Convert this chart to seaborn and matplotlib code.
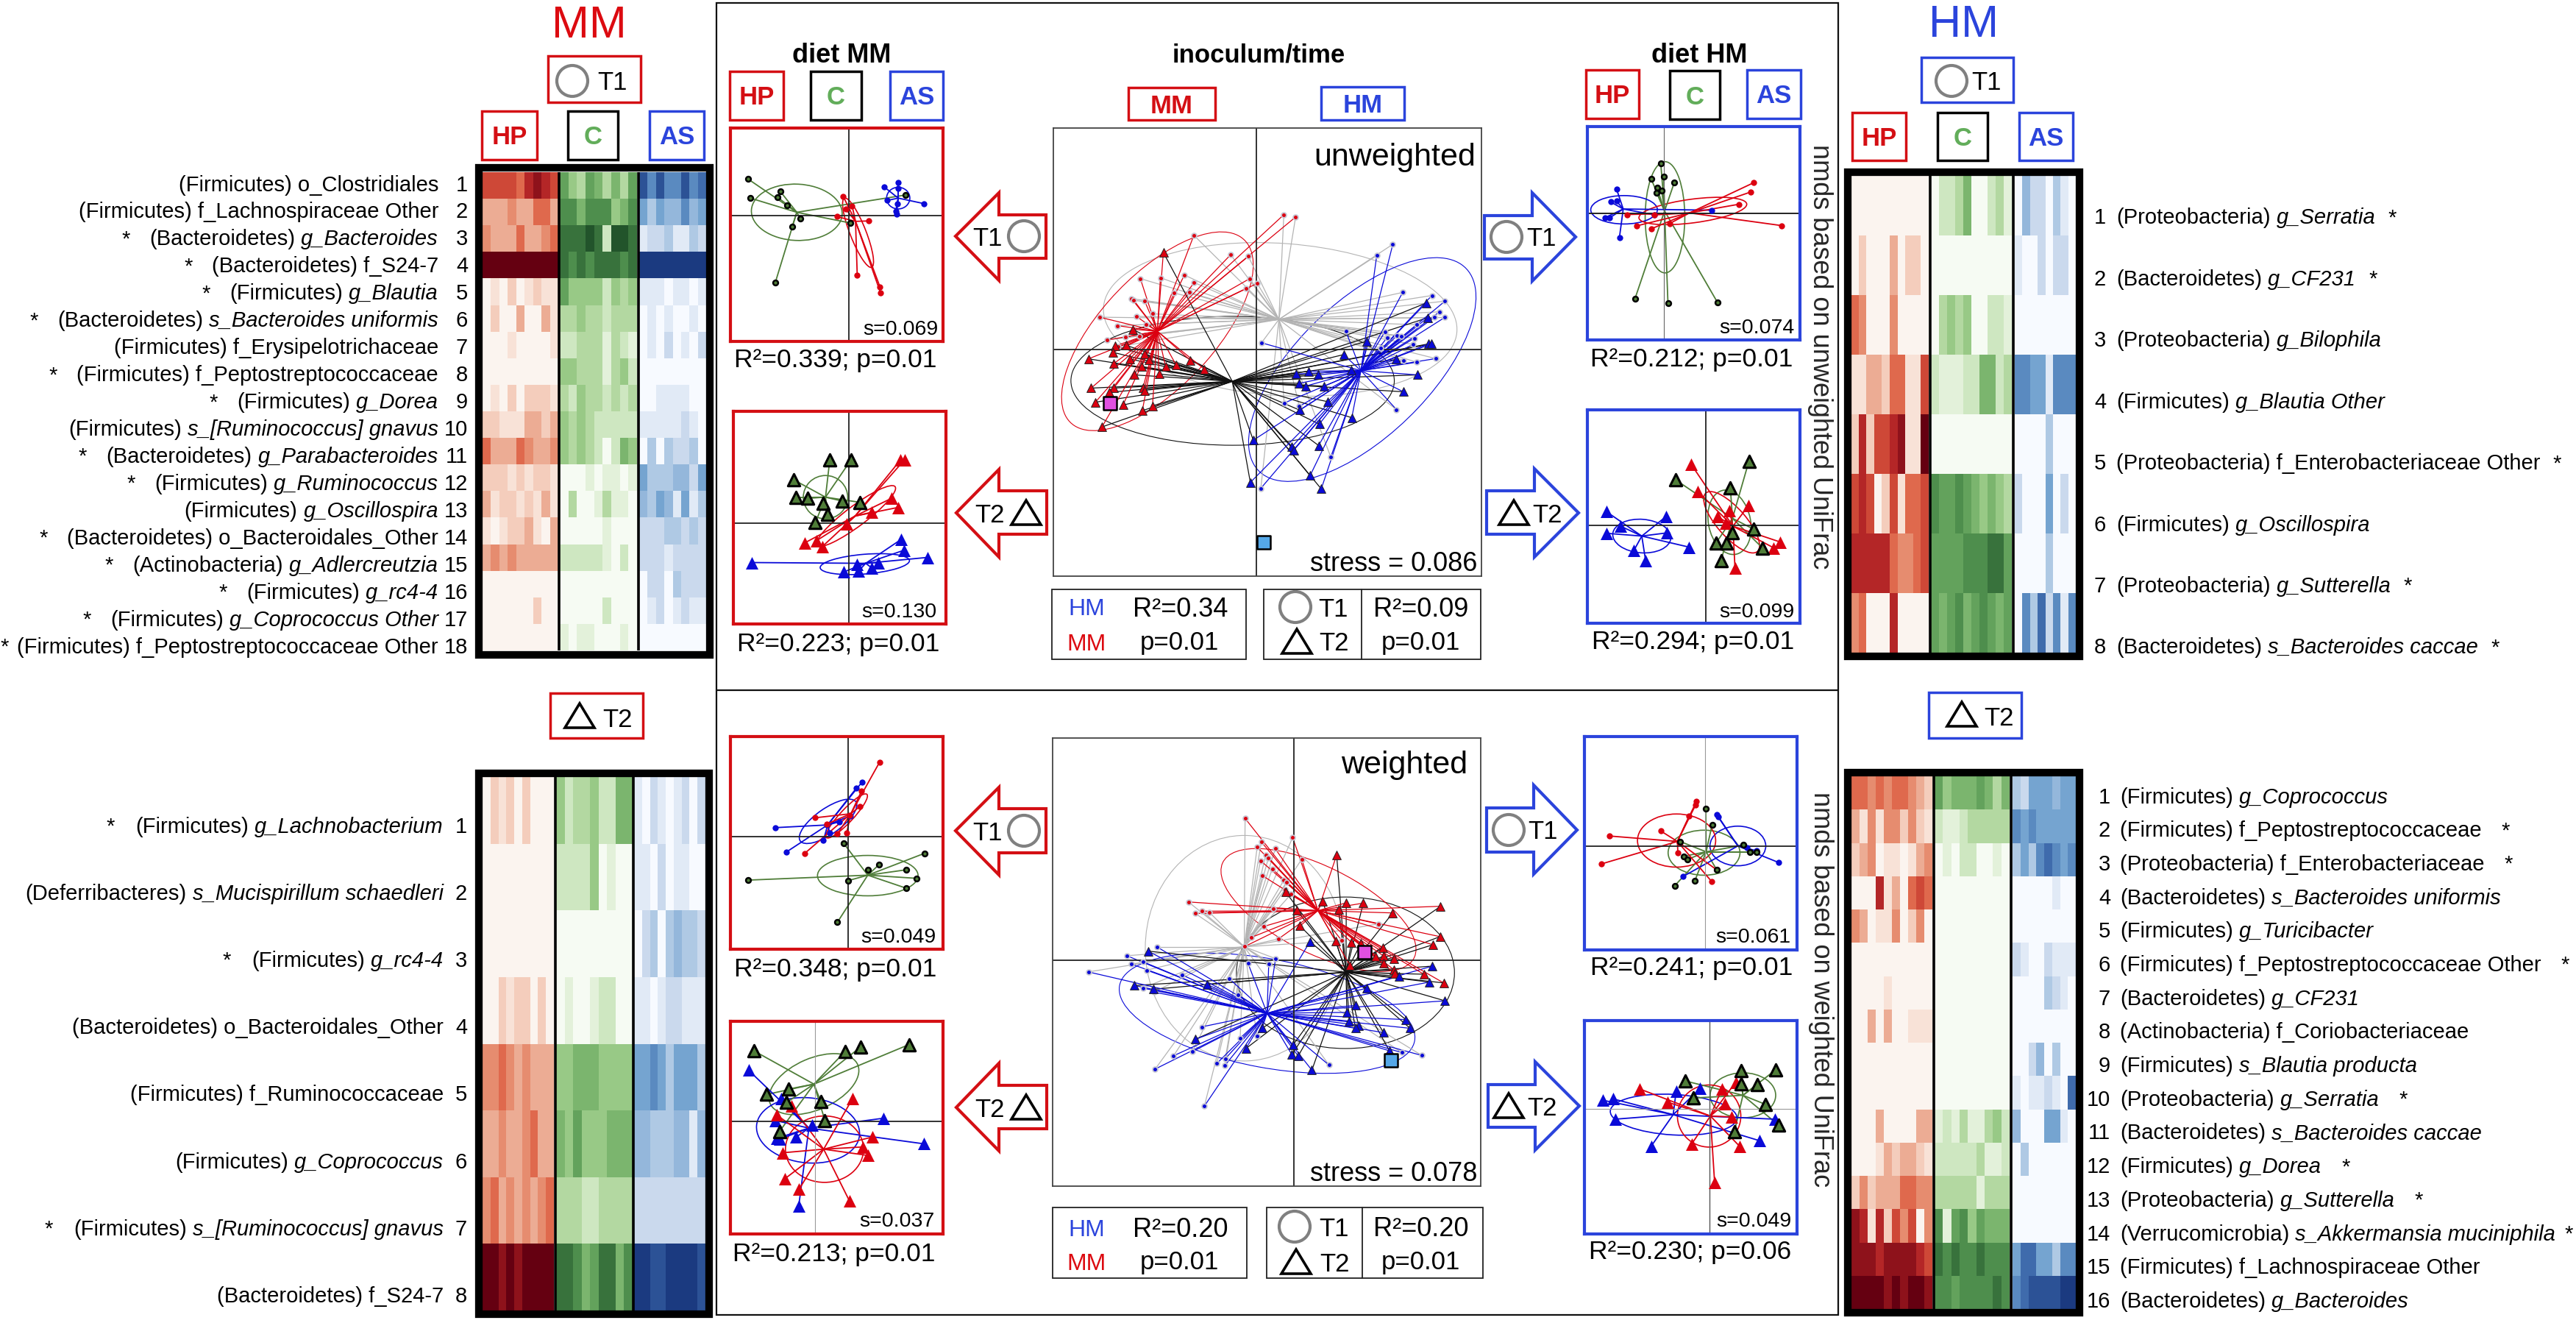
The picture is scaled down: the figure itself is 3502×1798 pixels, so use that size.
import numpy as np
import matplotlib
matplotlib.use('Agg')
import matplotlib.pyplot as plt
from matplotlib.colors import LinearSegmentedColormap
from matplotlib.patches import Ellipse, Polygon, Rectangle
import seaborn as sns

# ---- heatmap values (0 = lowest, 9 = highest abundance) ----
mm_t1_names = ['(Firmicutes) o_Clostridiales', '(Firmicutes) f_Lachnospiraceae Other', '(Bacteroidetes)|g_Bacteroides',
               '(Bacteroidetes) f_S24-7', '(Firmicutes)|g_Blautia', '(Bacteroidetes)|s_Bacteroides uniformis',
               '(Firmicutes) f_Erysipelotrichaceae', '(Firmicutes) f_Peptostreptococcaceae', '(Firmicutes)|g_Dorea',
               '(Firmicutes)|s_[Ruminococcus] gnavus', '(Bacteroidetes)|g_Parabacteroides', '(Firmicutes)|g_Ruminococcus',
               '(Firmicutes)|g_Oscillospira', '(Bacteroidetes) o_Bacteroidales_Other', '(Actinobacteria)|g_Adlercreutzia',
               '(Firmicutes)|g_rc4-4', '(Firmicutes)|g_Coprococcus Other', '(Firmicutes) f_Peptostreptococcaceae Other']
mm_t1_star = [0, 0, 1, 1, 1, 1, 0, 1, 1, 0, 1, 1, 0, 1, 1, 1, 1, 1]
mm_t1_hp = [[6, 6, 6, 6, 5, 7, 8, 7, 6], [3, 3, 3, 4, 3, 3, 5, 5, 3], [4, 3, 3, 3, 5, 3, 3, 4, 5],
            [9, 9, 9, 9, 9, 9, 9, 9, 9], [0, 1, 0, 2, 0, 1, 2, 1, 1], [0, 2, 0, 0, 3, 0, 0, 3, 1],
            [0, 0, 0, 1, 0, 0, 0, 0, 1], [0, 0, 0, 0, 0, 0, 0, 0, 0], [0, 1, 0, 2, 0, 2, 2, 2, 1],
            [2, 2, 1, 1, 1, 3, 3, 2, 3], [5, 3, 3, 3, 5, 4, 3, 3, 4], [2, 2, 2, 1, 2, 1, 2, 2, 1],
            [3, 1, 2, 2, 1, 2, 1, 3, 1], [1, 0, 1, 2, 2, 3, 1, 0, 3], [3, 4, 3, 4, 3, 3, 3, 3, 3],
            [0, 0, 0, 0, 0, 0, 0, 0, 0], [0, 0, 0, 0, 0, 0, 2, 0, 0], [0, 0, 0, 0, 0, 0, 0, 0, 0]]
mm_t1_c = [[6, 4, 3, 6, 5, 3, 5, 3, 6], [7, 7, 5, 7, 7, 7, 4, 5, 7], [8, 8, 8, 9, 8, 2, 9, 9, 8],
           [8, 7, 8, 7, 8, 8, 8, 7, 8], [6, 4, 4, 4, 4, 2, 4, 3, 4], [3, 3, 4, 3, 3, 2, 3, 3, 3],
           [2, 2, 3, 3, 3, 1, 3, 2, 1], [4, 4, 3, 3, 3, 1, 3, 4, 2], [3, 2, 4, 3, 3, 2, 3, 2, 3],
           [4, 3, 4, 3, 2, 2, 2, 2, 2], [4, 3, 4, 3, 2, 0, 2, 5, 4], [0, 0, 0, 1, 0, 1, 1, 0, 1],
           [0, 3, 0, 0, 1, 3, 1, 1, 0], [0, 0, 0, 0, 0, 1, 0, 0, 0], [2, 2, 2, 2, 2, 1, 0, 2, 0],
           [0, 0, 0, 0, 0, 0, 0, 0, 0], [0, 0, 0, 0, 0, 2, 0, 0, 0], [1, 0, 1, 1, 0, 0, 0, 1, 0]]
mm_t1_as = [[8, 6, 8, 6, 6, 8, 6, 7], [5, 3, 5, 4, 4, 6, 4, 5], [1, 2, 2, 3, 1, 1, 3, 2], [9, 9, 9, 9, 9, 9, 9, 9],
            [1, 1, 1, 0, 1, 1, 0, 1], [0, 1, 0, 1, 0, 0, 1, 0], [0, 1, 0, 2, 0, 1, 0, 2], [0, 0, 0, 0, 0, 0, 0, 0],
            [0, 0, 1, 1, 1, 1, 0, 0], [1, 1, 1, 1, 1, 2, 1, 0], [0, 3, 0, 3, 2, 2, 3, 0], [5, 3, 3, 3, 4, 4, 2, 5],
            [4, 3, 5, 4, 1, 5, 1, 3], [2, 2, 2, 3, 3, 2, 3, 2], [2, 2, 2, 1, 2, 2, 2, 2], [0, 2, 2, 0, 3, 2, 2, 2],
            [0, 1, 2, 0, 1, 2, 1, 1], [0, 0, 0, 0, 0, 0, 0, 0]]

mm_t2_names = ['(Firmicutes)|g_Lachnobacterium', '(Deferribacteres)|s_Mucispirillum schaedleri', '(Firmicutes)|g_rc4-4',
               '(Bacteroidetes) o_Bacteroidales_Other', '(Firmicutes) f_Ruminococcaceae', '(Firmicutes)|g_Coprococcus',
               '(Firmicutes)|s_[Ruminococcus] gnavus', '(Bacteroidetes) f_S24-7']
mm_t2_star = [1, 0, 1, 0, 0, 0, 1, 0]
mm_t2_hp = [[0, 2, 1, 2, 0, 2, 0, 0, 0], [0, 0, 0, 0, 0, 0, 0, 0, 0], [0, 0, 0, 0, 0, 0, 0, 0, 0],
            [0, 0, 2, 1, 2, 2, 0, 2, 0], [4, 4, 5, 4, 3, 4, 3, 3, 3], [3, 3, 4, 3, 3, 4, 5, 3, 3],
            [4, 5, 3, 4, 3, 4, 3, 4, 5], [9, 9, 8, 9, 8, 9, 9, 9, 9]]
mm_t2_c = [[4, 2, 3, 3, 4, 2, 2, 5, 5], [2, 2, 2, 2, 4, 0, 1, 0, 0], [0, 0, 0, 0, 0, 0, 0, 0, 0],
           [0, 1, 0, 0, 1, 2, 2, 0, 0], [4, 4, 5, 5, 5, 4, 4, 4, 4], [5, 4, 6, 4, 4, 4, 5, 5, 5],
           [3, 3, 3, 2, 2, 3, 3, 3, 3], [8, 8, 7, 5, 6, 8, 8, 5, 7]]
mm_t2_as = [[1, 0, 2, 1, 0, 1, 2, 0, 2], [1, 1, 0, 2, 0, 1, 1, 0, 0], [0, 2, 3, 0, 3, 4, 3, 3, 2],
            [1, 1, 0, 1, 2, 2, 1, 1, 1], [5, 5, 6, 5, 3, 5, 5, 5, 3], [4, 4, 3, 3, 3, 4, 4, 1, 4],
            [2, 2, 2, 2, 2, 2, 2, 2, 2], [9, 9, 8, 8, 9, 9, 9, 9, 8]]

hm_t1_names = ['(Proteobacteria)|g_Serratia', '(Bacteroidetes)|g_CF231', '(Proteobacteria)|g_Bilophila',
               '(Firmicutes)|g_Blautia Other', '(Proteobacteria) f_Enterobacteriaceae Other', '(Firmicutes)|g_Oscillospira',
               '(Proteobacteria)|g_Sutterella', '(Bacteroidetes)|s_Bacteroides caccae']
hm_t1_star = [1, 1, 0, 0, 1, 0, 1, 1]
hm_t1_hp = [[0, 0, 0, 0, 0, 0, 0, 0, 0, 0], [0, 2, 0, 0, 0, 3, 0, 2, 2, 0], [5, 4, 0, 0, 0, 4, 0, 0, 0, 0],
            [1, 1, 3, 3, 2, 5, 5, 1, 1, 6], [2, 7, 2, 6, 6, 7, 8, 1, 1, 9], [6, 7, 6, 0, 2, 6, 1, 5, 5, 6],
            [7, 7, 7, 7, 7, 5, 4, 4, 5, 6], [4, 5, 0, 0, 0, 7, 0, 0, 0, 0]]
hm_t1_c = [[0, 2, 2, 3, 5, 0, 0, 2, 3, 1], [0, 0, 0, 0, 0, 0, 0, 0, 0, 0], [0, 3, 4, 3, 4, 0, 0, 2, 2, 1],
           [2, 1, 1, 1, 2, 2, 5, 5, 2, 3], [0, 0, 0, 0, 0, 0, 0, 0, 0, 0], [7, 6, 6, 7, 6, 5, 4, 5, 4, 3],
           [6, 6, 6, 6, 7, 7, 7, 8, 8, 6], [6, 5, 6, 7, 5, 6, 7, 6, 5, 6]]
hm_t1_as = [[0, 4, 2, 2, 0, 3, 1, 0], [1, 0, 0, 2, 0, 2, 2, 0], [0, 0, 0, 0, 0, 0, 0, 0], [6, 6, 5, 5, 1, 6, 6, 6],
            [0, 0, 0, 0, 3, 0, 0, 0], [2, 0, 0, 0, 5, 0, 2, 0], [0, 0, 0, 0, 3, 0, 0, 0], [0, 6, 3, 7, 2, 6, 1, 6]]

hm_t2_names = ['(Firmicutes)|g_Coprococcus', '(Firmicutes) f_Peptostreptococcaceae', '(Proteobacteria) f_Enterobacteriaceae',
               '(Bacteroidetes)|s_Bacteroides uniformis', '(Firmicutes)|g_Turicibacter',
               '(Firmicutes) f_Peptostreptococcaceae Other', '(Bacteroidetes)|g_CF231', '(Actinobacteria) f_Coriobacteriaceae',
               '(Firmicutes)|s_Blautia producta', '(Proteobacteria)|g_Serratia', '(Bacteroidetes)|s_Bacteroides caccae',
               '(Firmicutes)|g_Dorea', '(Proteobacteria)|g_Sutterella', '(Verrucomicrobia)|s_Akkermansia muciniphila',
               '(Firmicutes) f_Lachnospiraceae Other', '(Bacteroidetes)|g_Bacteroides']
hm_t2_star = [0, 1, 1, 0, 0, 1, 0, 0, 0, 1, 0, 1, 1, 1, 0, 0]
hm_t2_hp = [[5, 5, 4, 5, 4, 5, 5, 4, 3, 2], [3, 1, 4, 1, 4, 4, 2, 4, 2, 1], [2, 3, 4, 0, 1, 1, 0, 1, 3, 4],
            [0, 0, 0, 7, 1, 3, 0, 5, 6, 5], [4, 3, 0, 1, 1, 4, 0, 2, 4, 0], [0, 0, 0, 0, 0, 0, 0, 0, 0, 0],
            [0, 0, 0, 0, 1, 0, 0, 0, 0, 0], [0, 0, 3, 0, 3, 0, 0, 1, 1, 1], [0, 0, 0, 0, 0, 0, 0, 0, 0, 0],
            [0, 0, 0, 0, 0, 0, 0, 0, 0, 0], [0, 0, 0, 3, 0, 0, 0, 0, 3, 3], [0, 0, 0, 1, 3, 2, 3, 3, 2, 1],
            [2, 4, 2, 3, 3, 3, 5, 5, 4, 4], [8, 7, 1, 7, 2, 6, 4, 6, 0, 4], [8, 8, 8, 7, 8, 8, 8, 8, 7, 6],
            [9, 9, 9, 9, 8, 9, 8, 9, 9, 8]]
hm_t2_c = [[6, 4, 5, 5, 5, 6, 5, 3, 5], [2, 1, 1, 2, 3, 3, 3, 3, 3], [0, 1, 0, 2, 2, 0, 0, 1, 0],
           [0, 0, 0, 0, 0, 0, 0, 0, 0], [0, 0, 0, 0, 0, 0, 0, 0, 0], [0, 0, 0, 0, 0, 0, 0, 0, 0],
           [0, 0, 0, 0, 0, 0, 0, 0, 0], [0, 0, 0, 0, 0, 0, 0, 0, 0], [0, 0, 0, 0, 0, 0, 0, 0, 0],
           [0, 0, 0, 0, 0, 0, 0, 0, 0], [1, 2, 1, 3, 1, 1, 3, 4, 2], [2, 2, 2, 2, 2, 3, 1, 1, 2],
           [3, 3, 3, 3, 3, 1, 3, 3, 3], [7, 1, 6, 7, 4, 6, 5, 5, 5], [8, 7, 8, 7, 7, 8, 7, 7, 7],
           [7, 7, 6, 7, 7, 7, 7, 8, 7]]
hm_t2_as = [[3, 2, 5, 5, 5, 4, 5, 5], [6, 5, 6, 5, 5, 5, 5, 5], [3, 5, 3, 6, 7, 6, 5, 6], [0, 0, 0, 0, 0, 1, 0, 0],
            [0, 0, 0, 0, 0, 0, 0, 0], [2, 1, 0, 0, 2, 1, 1, 1], [0, 0, 0, 0, 3, 2, 1, 0], [0, 0, 0, 0, 0, 0, 0, 0],
            [0, 0, 2, 4, 0, 3, 0, 0], [1, 0, 1, 1, 2, 1, 0, 7], [4, 0, 0, 0, 5, 5, 1, 0], [0, 3, 0, 0, 0, 0, 0, 0],
            [0, 0, 0, 0, 0, 0, 0, 0], [0, 0, 0, 0, 0, 0, 0, 0], [5, 7, 7, 5, 5, 3, 6, 6], [6, 7, 8, 8, 8, 8, 9, 9]]

# ---- small nmds panels, values are axis scores x 1000 ----
# unweighted, diet MM, T1
a_c_x = [-240, -234, -163, -169, -147, -116, -135, -175, 2, 134]
a_c_y = [93, 44, 61, 46, 26, -7, -29, -171, -19, 52]
a_hp_x = [-14, 7, -8, -29, 47, 19, 73, 74]
a_hp_y = [48, 24, 16, -3, -14, -151, -182, -196]
a_as_x = [82, 115, 116, 90, 114, 177, 110, 112]
a_as_y = [73, 83, 68, 38, 30, 30, 11, 3]
a_ell = {'c': (-124, 8, 215, 143, -3), 'hp': (21, -44, 187, 38, -70), 'as': (116, 44, 55, 55, 0)}
a_hub = {'c': (-124, 8), 'hp': (15, -15), 'as': (116, 44)}
# unweighted, diet MM, T2
b_c_x = [-46, 4, -131, -126, -99, -61, -16, 25, -51, -80]
b_c_y = [160, 160, 110, 65, 63, 51, 56, 53, 23, 1]
b_hp_x = [121, 131, 100, 116, 54, -6, -105, -78, -64]
b_hp_y = [160, 161, 63, 40, 28, -2, -50, -45, -60]
b_as_x = [-231, 122, 129, 185, 69, 54, 19, -13, 22]
b_as_y = [-100, -42, -69, -87, -100, -114, -104, -124, -122]
b_ell = {'c': (-56, 66, 105, 110, 0), 'hp': (16, 18, 238, 50, 39), 'as': (37, -104, 212, 50, 5)}
b_hub = {'c': (-56, 66), 'hp': (14, 18), 'as': (39, -102)}
# unweighted, diet HM, T1
c_c_x = [-7, -30, 0, 25, -16, -5, -17, -68, 10, 127]
c_c_y = [126, 88, 94, 78, 65, 58, 53, -216, -228, -225]
c_hp_x = [214, 206, 178, 279, -86, -23, -65, -29, 14]
c_hp_y = [78, 54, 23, -31, -3, -4, -32, -39, -26]
c_as_x = [-112, -126, -112, -139, -129, -105, -22, 114]
c_as_y = [62, 29, 31, -11, -12, -61, -4, 8]
c_ell = {'c': (3, -10, 94, 282, 0), 'hp': (69, 6, 258, 60, 8), 'as': (-94, 9, 158, 72, 0)}
c_hub = {'c': (2, 6), 'hp': (61, 1), 'as': (-96, 11)}
# unweighted, diet HM, T2
d_c_x = [-70, 103, 59, 63, 115, 25, 49, 135, 37]
d_c_y = [114, 162, 94, -20, -11, -46, -46, -58, -90]
d_hp_x = [-34, -18, 28, 57, 102, 47, 177, 162, 70]
d_hp_y = [154, 85, 22, 37, 49, 4, -43, -58, -110]
d_as_x = [-235, -234, -201, -93, -92, -39, -170, -142]
d_as_y = [34, -21, -3, 22, -20, -56, -65, -90]
d_ell = {'c': (57, 7, 100, 165, 10), 'hp': (62, 7, 192, 70, -51), 'as': (-151, -28, 138, 85, -5)}
d_hub = {'c': (64, 17), 'hp': (65, -3), 'as': (-151, -28)}
# weighted, diet MM, T1
e_c_x = [-10, 182, 47, 73, 138, 162, 138, 1, -236, -25]
e_c_y = [-15, -37, -74, -63, -74, -93, -115, -98, -97, -191]
e_hp_x = [75, 32, 29, -77, 4, -50, -3, -25, -103]
e_hp_y = [166, 101, 68, 42, 48, 28, 8, 6, -38]
e_as_x = [33, 20, 5, -171, -50, -20, -43, -58, -145]
e_as_y = [121, 108, 46, 20, 26, 33, 8, -9, -34]
e_ell = {'c': (47, -87, 238, 90, 0), 'hp': (-3, 46, 136, 30, 45), 'as': (-47, 34, 158, 58, 33)}
e_hub = {'c': (47, -86), 'hp': (7, 51), 'as': (-48, 26)}
# weighted, diet MM, T2
f_c_x = [-145, 71, 108, 222, -115, -63, -68, 13, 23, -85]
f_c_y = [157, 156, 166, 171, 60, 72, 42, 45, 2, -23]
f_hp_x = [88, -57, -92, -77, 135, 113, 125, -72, -38, 81]
f_hp_y = [50, 35, 15, -70, -35, -57, -76, -128, -151, -177]
f_as_x = [-158, -80, -95, -92, -85, -45, -8, 162, 257, -39]
f_as_y = [114, 50, 2, -38, -40, -35, -8, 7, -50, -188]
f_ell = {'c': (-3, 83, 225, 115, 22), 'hp': (22, -62, 185, 148, 0), 'as': (-17, -20, 245, 145, -5)}
f_hub = {'c': (-3, 83), 'hp': (20, -62), 'as': (-15, -15)}
# weighted, diet HM, T1
g_c_x = [1, 16, -60, -51, -42, -25, -72, 27, 90, 105, 122]
g_c_y = [83, 47, 10, -23, -30, -78, -88, -53, 2, -13, -13]
g_hp_x = [-21, -23, -38, -105, -226, -246, -65, -61, 15, 27]
g_hp_y = [99, 91, 67, 33, 22, -40, -15, 7, -79, -53]
g_as_x = [28, 30, 90, 99, 122, 174, -53]
g_as_y = [69, 65, 2, -3, -11, -37, -68]
g_ell = {'c': (-3, -15, 170, 100, 0), 'hp': (-68, 12, 185, 118, 0), 'as': (77, 0, 132, 88, 0)}
g_hub = {'c': (2, -13), 'hp': (-66, 10), 'as': (77, 0)}
# weighted, diet HM, T2
h_c_x = [-58, -38, 74, 157, 75, 113, 132, 163, 59]
h_c_y = [62, 24, 85, 87, 55, 54, 10, -36, -50]
h_hp_x = [-165, -100, 29, 62, 37, 52, -42, 72, 12]
h_hp_y = [44, 15, 44, 59, 12, -18, -78, -84, -164]
h_as_x = [-252, -228, -223, -79, -23, -138, 154, 119]
h_as_y = [19, 22, -23, 39, 45, -83, -23, -71]
h_ell = {'c': (79, 30, 155, 100, 0), 'hp': (-1, -16, 150, 138, 0), 'as': (-85, -13, 300, 90, -3)}
h_hub = {'c': (79, 30), 'hp': (2, -16), 'as': (-86, -13)}

# ---- big nmds panels, inoculum x time ----
u_mm_t1_x = [84, 120, -190, -78, -24, -353, -292, -219, -189, -20, 3, -31, -380, -373, -340, -250, -203, -477, -365,
             -316, -423, -336, -454, -398, -356, -421]
u_mm_t1_y = [480, 472, 407, 338, 332, 253, 256, 266, 239, 253, 236, 218, 182, 176, 174, 202, 204, 116, 119, 128, 86,
             91, 35, 46, 48, 11]
u_mm_t2_x = [-283, -376, -429, -396, -436, -511, -434, -386, -341, -326, -349, -201, -158, -244, -276, -296, -371,
             -503, -434, -448, -345, -341, -490, -406, -347, -316, -470]
u_mm_t2_y = [346, 73, 14, 16, -9, -32, -49, -32, -14, -36, -59, -37, -69, -54, -59, -86, -89, -136, -136, -151, -136,
             -144, -186, -196, -216, -199, -274]
u_hm_t1_x = [416, 367, 446, 535, 575, 558, 542, 574, 273, 392, 399, 429, 442, 481, 477, 489, 379, 16, 449, 489, 547,
             85, 131, 427, 227, 14]
u_hm_t1_y = [375, 335, 204, 193, 173, 135, 115, 115, 66, 64, 44, 51, 48, 41, 19, 89, 6, 25, -37, -44, -31, -189, -201,
             -212, -381, -492]
u_hm_t2_x = [517, 522, 337, 524, 533, 266, 427, 289, 121, 160, 189, 491, 131, 150, 206, 448, 217, 132, 291, 192, -9,
             190, 109, 115, 164, -18, 198]
u_hm_t2_y = [166, 114, 31, 21, 21, -17, -34, -72, -86, -76, -89, -89, -119, -129, -129, -149, -184, -214, -241, -264,
             -321, -340, -344, -356, -447, -471, -494]
u_hub = {'mm': (-301, 66), 'hm': (319, -74), 't1': (69, 108), 't2': (-73, -112)}
u_ell = {'mm': (-301, 66, 840, 366, 53), 'hm': (323, -70, 960, 436, 51), 't1': (73, 108, 1080, 540, -5),
         't2': (-72, -110, 985, 458, 0)}
u_ctrl_x = [-446, 22]
u_ctrl_y = [-189, -684]

w_mm_t1_x = [-178, -119, -134, -68, -5, -103, -93, 28, -122, -79, -115, -37, -26, -33, -10, -384, -359, -335, -307,
             -76, -111, -156, -57, -179, 306, 174]
w_mm_t1_y = [491, 410, 392, 386, 425, 364, 355, 350, 345, 316, 293, 277, 270, 245, 230, 202, 162, 170, 165, 179, 117,
             79, 74, 48, 126, 68]
w_mm_t2_x = [155, -31, 104, 190, 252, 162, 359, 533, 9, 22, 151, 209, 244, 531, 505, 324, 297, 326, 362, 326, 204,
             364, 366, 472, 544]
w_mm_t2_y = [364, 237, 205, 199, 198, 177, 164, 187, 174, 119, 67, 62, 59, 82, 54, 44, 12, 15, 5, -11, -18, -33, -45,
             -48, -78]
w_hm_t1_x = [-499, -608, -549, -591, -536, -748, -406, -550, -510, -167, -92, -67, -236, -204, -335, -196, -135, -370,
             -438, -250, -281, -251, -505, -326, 127, 392, 465]
w_hm_t1_y = [47, 16, -5, -13, -34, -40, -51, -96, -110, -11, -13, 6, -63, -119, -230, -269, -261, -316, -330, -340,
             -357, -363, -376, -504, -362, -319, -329]
w_hm_t2_x = [-531, -580, -512, -316, 58, 503, 382, 493, 265, 549, 224, 192, 201, 407, 235, 223, 422, 326, -359, -116,
             -175, -4, -8, 15, 347, 65]
w_hm_t2_y = [32, -87, -100, -83, 65, -20, -55, -75, -96, -140, -156, -180, -210, -205, -225, -235, -235, -250, -273,
             -235, -305, -293, -326, -331, -313, -380]
w_hub = {'mm': (87, 172), 'hm': (-98, -183), 't1': (-181, 47), 't2': (189, -41)}
w_ell = {'mm': (89, 174, 770, 302, -25), 'hm': (-98, -183, 1090, 376, -10), 't1': (-181, 42, 720, 780, 0),
         't2': (187, -43, 793, 524, 0)}
w_ctrl_x = [255, 353]
w_ctrl_y = [28, -345]

# ---- statistics text ----
panel_stats = ['R²=0.339; p=0.01', 'R²=0.223; p=0.01', 'R²=0.212; p=0.01', 'R²=0.294; p=0.01',
               'R²=0.348; p=0.01', 'R²=0.213; p=0.01', 'R²=0.241; p=0.01', 'R²=0.230; p=0.06']
panel_stress = ['s=0.069', 's=0.130', 's=0.074', 's=0.099', 's=0.049', 's=0.037', 's=0.061', 's=0.049']

# ---- styles ----
RED = '#d40f14'
BLUE = '#2b44dc'
GREEN_TXT = '#62ad5a'
DOT_RED = '#dc0010'
DOT_BLUE = '#0a0ad8'
DOT_GREEN = '#4f7d38'
GRAY = '#b4b4b4'

sns.set_theme(style='white')
plt.rcParams['font.family'] = ['Liberation Sans', 'DejaVu Sans']

W, H = 3502, 1798
fig = plt.figure(figsize=(W / 100, H / 100), dpi=100, facecolor='white')

reds = LinearSegmentedColormap.from_list('r', ['#fbf4ef', '#f5d3c3', '#e8997c', '#dd5c40', '#b02024', '#650011'])
greens = LinearSegmentedColormap.from_list('g', ['#f6fbf3', '#d3e9c6', '#a3d08f', '#70ae65', '#4a8a4a', '#22542b'])
blues = LinearSegmentedColormap.from_list('b', ['#f7faff', '#cfdcef', '#9fbfdf', '#6a9ccc', '#3a66a8', '#1b3a80'])


def axes_px(x0, y0, x1, y1):
    return fig.add_axes([x0 / W, 1 - y1 / H, (x1 - x0) / W, (y1 - y0) / H])


# overlay in image pixels for all boxes and labels
ov = fig.add_axes([0, 0, 1, 1], zorder=10)
ov.set_xlim(0, W)
ov.set_ylim(H, 0)
ov.axis('off')
ov.patch.set_alpha(0)
renderer = fig.canvas.get_renderer()


def txt(x, y, s, size, ha='center', color='black', weight='normal', style='normal'):
    # y is the middle of the capitals
    return ov.text(x, y + size * 0.5, s, fontsize=size, ha=ha, va='baseline', color=color,
                   fontweight=weight, fontstyle=style)


def box(x0, y0, x1, y1, color='black', lw=2.5):
    ov.add_patch(Rectangle((x0, y0), x1 - x0, y1 - y0, fill=False, ec=color, lw=lw))


def label_box(x0, y0, x1, y1, s, color, edge, size=25):
    box(x0, y0, x1, y1, edge)
    txt((x0 + x1) / 2, (y0 + y1) / 2, s, size, color=color, weight='bold')


def circle(x, y, lw=3):
    ov.add_patch(Ellipse((x, y), 42, 42, fill=False, ec='#808080', lw=lw))


def triangle(x, y, lw=2.6):
    ov.add_patch(Polygon([(x - 20, y + 16), (x + 20, y + 16), (x, y - 17)], closed=True, fill=False, ec='black', lw=lw))


def arrow(tip, head, right, shaft_top, shaft_bot, head_top, head_bot, color):
    pts = [(tip[0], tip[1]), (head, head_top), (head, shaft_top), (right, shaft_top), (right, shaft_bot),
           (head, shaft_bot), (head, head_bot)]
    ov.add_patch(Polygon(pts, closed=True, fill=False, ec=color, lw=3))


def name_label(x, y, label, ha, star, star_gap, size):
    # a name may be plain, or taxon in plain followed by a | and the italic genus
    parts = label.split('|')
    gap = size * 0.39
    if ha == 'right':
        edge = x
        for i, part in reversed(list(enumerate(parts))):
            t = txt(edge, y, part, size, ha='right', style='italic' if i == 1 else 'normal')
            edge = t.get_window_extent(renderer).x0 - gap
        if star:
            txt(edge + gap - star_gap, y, '*', size, ha='center')
    else:
        edge = x
        for i, part in enumerate(parts):
            t = txt(edge, y, part, size, ha='left', style='italic' if i == 1 else 'normal')
            edge = t.get_window_extent(renderer).x1 + gap
        if star:
            txt(edge - gap + star_gap, y, '*', size, ha='center')


def heat_block(values, cols, top, bottom, outer):
    for rows, cmap, (x0, x1) in zip(values, (reds, greens, blues), cols):
        ax = axes_px(x0, top, x1, bottom)
        sns.heatmap(np.array(rows), ax=ax, cmap=cmap, vmin=0, vmax=9, cbar=False,
                    xticklabels=False, yticklabels=False, linewidths=0)
    # thick black frame and separators
    ox0, oy0, ox1, oy1 = outer
    box(ox0 + 5, oy0 + 5, ox1 - 5, oy1 - 5, 'black', lw=7.4)
    for (x0, x1), (nx0, _) in zip(cols[:2], cols[1:]):
        ov.plot([(x1 + nx0) / 2] * 2, [top, bottom], color='black', lw=2.6, solid_capstyle='butt')


def small_panel(rect, xlim, ylim, groups, hub, ell, marker, edge, cross_lw=(1.3, 1.3), cross_col=('#222222', '#222222')):
    ax = axes_px(*rect)
    colors = {'hp': DOT_RED, 'c': DOT_GREEN, 'as': DOT_BLUE}
    for key in ('c', 'as', 'hp'):
        x, y = groups[key]
        cx, cy, w, h, ang = ell[key]
        ax.add_patch(Ellipse((cx, cy), w, h, angle=ang, fill=False, ec=colors[key], lw=1.2))
        for xi, yi in zip(x, y):
            ax.plot([hub[key][0], xi], [hub[key][1], yi], color=colors[key], lw=1.3)
    for key in ('as', 'hp', 'c'):
        x, y = groups[key]
        if marker == 'o':
            size, lw, ec = (24, 1.8, 'black') if key == 'c' else (36, 0, colors[key])
        else:
            size, lw, ec = (140, 2.2, 'black') if key == 'c' else (150, 0, colors[key])
        sns.scatterplot(x=x, y=y, ax=ax, color=colors[key], marker=marker, s=size, edgecolor=ec, linewidth=lw,
                        legend=False, zorder=4)
    ax.axvline(0, color=cross_col[0], lw=cross_lw[0])
    ax.axhline(0, color=cross_col[1], lw=cross_lw[1])
    ax.set_xlim(*xlim)
    ax.set_ylim(*ylim)
    ax.set_xticks([])
    ax.set_yticks([])
    for s in ax.spines.values():
        s.set_color(edge)
        s.set_linewidth(3)
    return ax


def big_panel(rect, xlim, ylim, mm1, mm2, hm1, hm2, hub, ell, ctrl):
    ax = axes_px(*rect)
    links = [('t1', [mm1, hm1], GRAY), ('t2', [mm2, hm2], '#111111'), ('hm', [hm1, hm2], DOT_BLUE),
             ('mm', [mm1, mm2], DOT_RED)]
    for key, sets, col in links:
        cx, cy, w, h, ang = ell[key]
        ax.add_patch(Ellipse((cx, cy), w, h, angle=ang, fill=False, ec=col, lw=0.8))
        for x, y in sets:
            for xi, yi in zip(x, y):
                ax.plot([hub[key][0], xi], [hub[key][1], yi], color=col, lw=0.9)
    for (x, y), col in ((mm1, DOT_RED), (hm1, DOT_BLUE)):
        sns.scatterplot(x=x, y=y, ax=ax, color=col, marker='o', s=24, edgecolor='#c6c6d2', linewidth=1.3,
                        legend=False, zorder=4)
    for (x, y), col in ((mm2, DOT_RED), (hm2, DOT_BLUE)):
        sns.scatterplot(x=x, y=y, ax=ax, color=col, marker='^', s=72, edgecolor='#222222', linewidth=0.7,
                        legend=False, zorder=4)
    sns.scatterplot(x=ctrl[0][:1], y=ctrl[1][:1], ax=ax, color='#e050e0', marker='s', s=150, edgecolor='black',
                    linewidth=1.8, legend=False, zorder=5)
    sns.scatterplot(x=ctrl[0][1:], y=ctrl[1][1:], ax=ax, color='#55a8e8', marker='s', s=150, edgecolor='black',
                    linewidth=1.8, legend=False, zorder=5)
    ax.axvline(0, color='#222222', lw=1.3)
    ax.axhline(0, color='#222222', lw=1.3)
    ax.set_xlim(*xlim)
    ax.set_ylim(*ylim)
    ax.set_xticks([])
    ax.set_yticks([])
    for s in ax.spines.values():
        s.set_color('#444444')
        s.set_linewidth(1.3)
    return ax


# ---- heatmaps ----
heat_block((mm_t1_hp, mm_t1_c, mm_t1_as), [(656, 759), (761, 866), (869, 960)], 234, 884, (646, 223, 970, 895))
heat_block((mm_t2_hp, mm_t2_c, mm_t2_as), [(656, 753), (756, 860), (862, 959)], 1056, 1781, (646, 1046, 969, 1791))
heat_block((hm_t1_hp, hm_t1_c, hm_t1_as), [(2516, 2622), (2625, 2735), (2739, 2822)], 239, 887, (2507, 229, 2832, 897))
heat_block((hm_t2_hp, hm_t2_c, hm_t2_as), [(2517, 2627), (2630, 2732), (2736, 2822)], 1055, 1779, (2507, 1045, 2832, 1789))

# ---- row labels ----
y_mm1 = [249 + 36.95 * i for i in range(18)]
for i, (name, star) in enumerate(zip(mm_t1_names, mm_t1_star)):
    name_label(596, y_mm1[i], name, 'right', star, 17 if i == 17 else 32, 21)
    txt(636, y_mm1[i], str(i + 1), 21, ha='right')
y_mm2 = [1121 + 91.2 * i for i in range(8)]
for i, (name, star) in enumerate(zip(mm_t2_names, mm_t2_star)):
    name_label(603, y_mm2[i], name, 'right', star, 34, 21)
    txt(635, y_mm2[i], str(i + 1), 21, ha='right')
y_hm1 = [294 + 83.4 * i for i in range(8)]
for i, (name, star) in enumerate(zip(hm_t1_names, hm_t1_star)):
    name_label(2877, y_hm1[i], name, 'left', star, 23, 21)
    txt(2855, y_hm1[i], str(i + 1), 21)
y_hm2 = [1081 + 45.7 * i for i in range(16)]
for i, (name, star) in enumerate(zip(hm_t2_names, hm_t2_star)):
    name_label(2882, y_hm2[i], name, 'left', star, 18 if i == 13 else 33, 21)
    txt(2869, y_hm2[i], str(i + 1), 21, ha='right')

# ---- heatmap headers ----
txt(801, 29, 'MM', 44, color='#dc0a10')
txt(2669, 28, 'HM', 44, color='#2b44dc')
box(745, 76, 871, 139, RED)
circle(778, 110)
txt(832, 110, 'T1', 25)
box(2612, 78, 2737, 139, BLUE)
circle(2653, 110)
txt(2700, 110, 'T1', 25)
label_box(655, 151, 730, 217, 'HP', RED, RED)
label_box(772, 151, 840, 217, 'C', GREEN_TXT, 'black')
label_box(883, 151, 957, 217, 'AS', BLUE, BLUE)
label_box(2518, 153, 2591, 218, 'HP', RED, RED)
label_box(2634, 153, 2702, 218, 'C', GREEN_TXT, 'black')
label_box(2745, 153, 2818, 218, 'AS', BLUE, BLUE)
box(748, 942, 874, 1003, RED)
triangle(788, 973)
txt(839, 975, 'T2', 25)
box(2622, 941, 2748, 1003, BLUE)
triangle(2667, 971)
txt(2717, 973, 'T2', 25)

# ---- central frame ----
box(974, 4, 2499, 1787, '#111111', lw=1.6)
ov.plot([974, 2499], [938, 938], color='#111111', lw=1.6)
txt(1144, 72, 'diet MM', 26, weight='bold')
txt(1711, 72, 'inoculum/time', 25, weight='bold')
txt(2310, 72, 'diet HM', 26, weight='bold')
label_box(992, 97, 1065, 163, 'HP', RED, RED)
label_box(1102, 97, 1171, 163, 'C', GREEN_TXT, 'black')
label_box(1210, 97, 1282, 163, 'AS', BLUE, BLUE)
label_box(2156, 95, 2228, 161, 'HP', RED, RED)
label_box(2270, 96, 2338, 162, 'C', GREEN_TXT, 'black')
label_box(2375, 95, 2448, 161, 'AS', BLUE, BLUE)
label_box(1534, 119, 1652, 163, 'MM', RED, RED)
label_box(1796, 118, 1909, 163, 'HM', BLUE, BLUE)

# ---- small ordinations ----
small_panel((993, 174, 1282, 464), (-281, 222), (-320, 222),
            {'c': (a_c_x, a_c_y), 'hp': (a_hp_x, a_hp_y), 'as': (a_as_x, a_as_y)}, a_hub, a_ell, 'o', RED)
small_panel((997, 559, 1286, 848), (-274, 229), (-256, 284),
            {'c': (b_c_x, b_c_y), 'hp': (b_hp_x, b_hp_y), 'as': (b_as_x, b_as_y)}, b_hub, b_ell, '^', RED)
small_panel((2158, 172, 2447, 462), (-181, 323), (-321, 220),
            {'c': (c_c_x, c_c_y), 'hp': (c_hp_x, c_hp_y), 'as': (c_as_x, c_as_y)}, c_hub, c_ell, 'o', BLUE,
            cross_lw=(0.8, 1.4), cross_col=('#666666', '#222222'))
small_panel((2158, 557, 2447, 847), (-280, 224), (-249, 292),
            {'c': (d_c_x, d_c_y), 'hp': (d_hp_x, d_hp_y), 'as': (d_as_x, d_as_y)}, d_hub, d_ell, '^', BLUE)
small_panel((993, 1001, 1282, 1290), (-278, 225), (-251, 223),
            {'c': (e_c_x, e_c_y), 'hp': (e_hp_x, e_hp_y), 'as': (e_as_x, e_as_y)}, e_hub, e_ell, 'o', RED)
small_panel((993, 1388, 1282, 1677), (-201, 303), (-251, 223),
            {'c': (f_c_x, f_c_y), 'hp': (f_hp_x, f_hp_y), 'as': (f_as_x, f_as_y)}, f_hub, f_ell, '^', RED,
            cross_lw=(0.8, 1.3), cross_col=('#999999', '#222222'))
small_panel((2154, 1001, 2443, 1291), (-286, 217), (-231, 243),
            {'c': (g_c_x, g_c_y), 'hp': (g_hp_x, g_hp_y), 'as': (g_as_x, g_as_y)}, g_hub, g_ell, 'o', BLUE,
            cross_lw=(0.8, 1.3), cross_col=('#999999', '#222222'))
small_panel((2154, 1387, 2443, 1677), (-296, 207), (-278, 196),
            {'c': (h_c_x, h_c_y), 'hp': (h_hp_x, h_hp_y), 'as': (h_as_x, h_as_y)}, h_hub, h_ell, '^', BLUE,
            cross_lw=(1.0, 0.8), cross_col=('#555555', '#999999'))

stress_xy = [(1275, 445), (1273, 829), (2439, 443), (2439, 829), (1272, 1271), (1270, 1657), (2434, 1271), (2435, 1657)]
stats_xy = [(1136, 486), (1140, 872), (2300, 485), (2302, 869), (1136, 1314), (1134, 1701), (2300, 1312), (2298, 1698)]
for (x, y), s in zip(stress_xy, panel_stress):
    txt(x, y, s, 20.5, ha='right')
for (x, y), s in zip(stats_xy, panel_stats):
    txt(x, y, s, 25.5)

# ---- arrows between panels ----
arrow((1299, 321), 1358, 1422, 292, 351, 262, 381, RED)
arrow((1300, 697), 1358, 1423, 667, 726, 638, 757, RED)
arrow((2142, 322), 2083, 2018, 293, 352, 262, 382, BLUE)
arrow((2146, 697), 2086, 2021, 667, 726, 637, 757, BLUE)
arrow((1299, 1129), 1358, 1422, 1099, 1159, 1070, 1189, RED)
arrow((1300, 1505), 1358, 1423, 1475, 1534, 1445, 1564, RED)
arrow((2144, 1128), 2085, 2021, 1098, 1158, 1067, 1188, BLUE)
arrow((2147, 1503), 2087, 2023, 1474, 1532, 1443, 1563, BLUE)
for x_txt, x_c, y in ((1342, 1392, 321), (2095, 2048, 322), (1342, 1392, 1129), (2097, 2051, 1128)):
    txt(x_txt, y, 'T1', 25)
    circle(x_c, y)
for x_txt, x_c, y in ((1345, 1395, 697), (2103, 2058, 697), (1345, 1395, 1505), (2096, 2051, 1503)):
    txt(x_txt, y, 'T2', 25)
    triangle(x_c, y)

# ---- big ordinations ----
big_panel((1432, 174, 2014, 783), (-618, 686), (-804, 788), (u_mm_t1_x, u_mm_t1_y), (u_mm_t2_x, u_mm_t2_y),
          (u_hm_t1_x, u_hm_t1_y), (u_hm_t2_x, u_hm_t2_y), u_hub, u_ell, (u_ctrl_x, u_ctrl_y))
big_panel((1431, 1003, 2013, 1612), (-878, 679), (-781, 769), (w_mm_t1_x, w_mm_t1_y), (w_mm_t2_x, w_mm_t2_y),
          (w_hm_t1_x, w_hm_t1_y), (w_hm_t2_x, w_hm_t2_y), w_hub, w_ell, (w_ctrl_x, w_ctrl_y))
txt(2006, 209, 'unweighted', 31, ha='right')
txt(2008, 763, 'stress = 0.086', 26, ha='right')
txt(1995, 1036, 'weighted', 31, ha='right')
txt(2008, 1592, 'stress = 0.078', 26, ha='right')

# ---- inoculum and time statistics ----
box(1430, 801, 1694, 896, '#222222', lw=1.3)
box(1718, 801, 2013, 896, '#222222', lw=1.3)
ov.plot([1851, 1851], [801, 896], color='#222222', lw=1.3)
box(1431, 1641, 1695, 1737, '#222222', lw=1.3)
box(1722, 1641, 2016, 1737, '#222222', lw=1.3)
ov.plot([1852, 1852], [1641, 1737], color='#222222', lw=1.3)
for x, y1, y2, r2 in ((1477, 825, 872, 'R²=0.34'), (1477, 1668, 1715, 'R²=0.20')):
    txt(x, y1, 'HM', 23, color='#2b44dc')
    txt(x, y2, 'MM', 23, color='#dc0a10')
    txt(x + 128, y1, r2, 26)
    txt(x + 126, y2 - 2, 'p=0.01', 25)
for xc, x_t, y1, y2, r2 in ((1761, 1812, 825, 872, 'R²=0.09'), (1760, 1813, 1667, 1715, 'R²=0.20')):
    circle(xc, y1)
    txt(x_t, y1, 'T1', 25)
    triangle(xc + 2, y2)
    txt(x_t + 1, y2, 'T2', 25)
    txt(1932, y1, r2, 26)
    txt(1931, y2 - 2, 'p=0.01', 25)

# ---- side captions ----
ov.text(2474, 485, 'nmds based on unweighted UniFrac', fontsize=26, rotation=-90, ha='center', va='center')
ov.text(2475, 1345, 'nmds based on weighted UniFrac', fontsize=26, rotation=-90, ha='center', va='center')

fig.savefig('out.png', dpi=100, facecolor='white')
